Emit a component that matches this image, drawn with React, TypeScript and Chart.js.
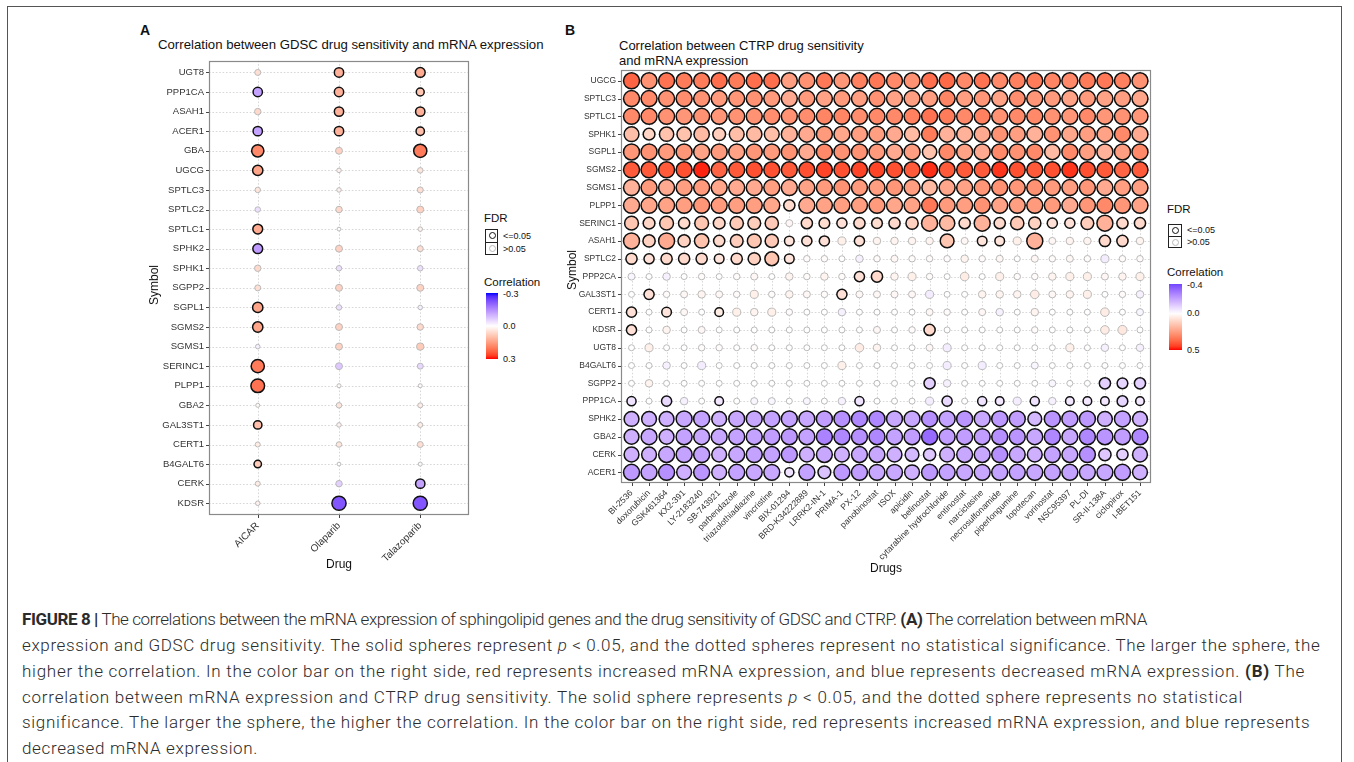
import React, { useEffect, useLayoutEffect, useRef } from "react";
import { Chart, registerables } from "chart.js";
Chart.register(...registerables);

// ---------------- Panel A data (GDSC) ----------------
const genesA = ["UGT8", "PPP1CA", "ASAH1", "ACER1", "GBA", "UGCG", "SPTLC3", "SPTLC2", "SPTLC1", "SPHK2", "SPHK1", "SGPP2", "SGPL1", "SGMS2", "SGMS1", "SERINC1", "PLPP1", "GBA2", "GAL3ST1", "CERT1", "B4GALT6", "CERK", "KDSR"];
const drugsA = ["AICAR", "Olaparib", "Talazoparib"];
const corrAICAR = [0.05, -0.12, 0.06, -0.12, 0.18, 0.14, 0.04, -0.04, 0.13, -0.13, 0.06, 0.05, 0.14, 0.14, -0.02, 0.2, 0.21, 0.01, 0.1, 0.03, 0.08, 0.03, 0.02];
const sigAICAR = [0, 1, 0, 1, 1, 1, 0, 0, 1, 1, 0, 0, 1, 1, 0, 1, 1, 0, 1, 0, 1, 0, 0];
const corrOlaparib = [0.12, 0.12, 0.12, 0.12, 0.07, 0.02, 0.02, 0.06, 0.005, 0.07, -0.04, 0.07, -0.04, 0.07, 0.07, -0.07, 0.01, 0.04, 0.02, 0.04, 0.005, -0.06, -0.22];
const sigOlaparib = [1, 1, 1, 1, 0, 0, 0, 0, 0, 0, 0, 0, 0, 0, 0, 0, 0, 0, 0, 0, 0, 0, 1];
const corrTalazoparib = [0.13, 0.09, 0.12, 0.1, 0.2, 0.04, 0.05, 0.07, 0.02, 0.05, -0.04, 0.07, -0.02, 0.06, 0.08, -0.05, 0.01, 0.03, 0.03, 0.05, 0.01, -0.12, -0.22];
const sigTalazoparib = [1, 1, 1, 1, 1, 0, 0, 0, 0, 0, 0, 0, 0, 0, 0, 0, 0, 0, 0, 0, 0, 1, 1];
const legendTicksA = ["-0.3", "0.0", "0.3"];

// ---------------- Panel B data (CTRP) ----------------
const genesB = ["UGCG", "SPTLC3", "SPTLC1", "SPHK1", "SGPL1", "SGMS2", "SGMS1", "PLPP1", "SERINC1", "ASAH1", "SPTLC2", "PPP2CA", "GAL3ST1", "CERT1", "KDSR", "UGT8", "B4GALT6", "SGPP2", "PPP1CA", "SPHK2", "GBA2", "CERK", "ACER1"];
const drugsB = ["BI-2536", "doxorubicin", "GSK461364", "KX2-391", "LY-2183240", "SB-743921", "parbendazole", "triazolothiadiazine", "vincristine", "BIX-01294", "BRD-K34222889", "LRRK2-IN-1", "PRIMA-1", "PX-12", "panobinostat", "ISOX", "apicidin", "belinostat", "cytarabine hydrochloride", "entinostat", "narciclasine", "necrosulfonamide", "piperlongumine", "topotecan", "vorinostat", "NSC95397", "PL-DI", "SR-II-138A", "ciclopirox", "I-BET151"];
const bUGCG = [0.38, 0.28, 0.35, 0.33, 0.33, 0.36, 0.33, 0.36, 0.36, 0.25, 0.28, 0.34, 0.27, 0.32, 0.34, 0.30, 0.28, 0.36, 0.37, 0.30, 0.35, 0.30, 0.32, 0.33, 0.31, 0.30, 0.33, 0.34, 0.32, 0.28];
const bSPTLC3 = [0.30, 0.30, 0.28, 0.29, 0.28, 0.26, 0.27, 0.28, 0.26, 0.22, 0.26, 0.24, 0.26, 0.25, 0.28, 0.24, 0.25, 0.25, 0.31, 0.25, 0.27, 0.24, 0.29, 0.27, 0.26, 0.24, 0.26, 0.24, 0.25, 0.23];
const bSPTLC1 = [0.30, 0.30, 0.28, 0.27, 0.28, 0.27, 0.28, 0.28, 0.29, 0.28, 0.29, 0.31, 0.31, 0.29, 0.30, 0.30, 0.32, 0.35, 0.33, 0.30, 0.32, 0.28, 0.30, 0.30, 0.28, 0.27, 0.30, 0.27, 0.28, 0.27];
const bSPHK1 = [0.17, 0.11, 0.16, 0.16, 0.18, 0.13, 0.17, 0.18, 0.17, 0.20, 0.22, 0.26, 0.23, 0.25, 0.25, 0.22, 0.18, 0.33, 0.20, 0.20, 0.22, 0.28, 0.25, 0.20, 0.28, 0.23, 0.25, 0.24, 0.30, 0.22];
const bSGPL1 = [0.27, 0.28, 0.26, 0.27, 0.24, 0.26, 0.24, 0.27, 0.26, 0.28, 0.22, 0.30, 0.28, 0.28, 0.26, 0.22, 0.25, 0.16, 0.30, 0.24, 0.22, 0.30, 0.28, 0.30, 0.18, 0.30, 0.25, 0.20, 0.25, 0.30];
const bSGMS2 = [0.40, 0.40, 0.40, 0.42, 0.48, 0.38, 0.40, 0.42, 0.42, 0.40, 0.42, 0.44, 0.42, 0.44, 0.44, 0.42, 0.40, 0.47, 0.40, 0.40, 0.40, 0.46, 0.42, 0.40, 0.42, 0.46, 0.42, 0.40, 0.38, 0.40];
const bSGMS1 = [0.20, 0.26, 0.22, 0.25, 0.26, 0.23, 0.22, 0.22, 0.25, 0.22, 0.24, 0.26, 0.28, 0.26, 0.25, 0.27, 0.25, 0.18, 0.23, 0.24, 0.27, 0.28, 0.27, 0.28, 0.26, 0.25, 0.27, 0.22, 0.25, 0.25];
const bPLPP1 = [0.22, 0.23, 0.24, 0.25, 0.27, 0.26, 0.25, 0.25, 0.23, 0.10, 0.22, 0.24, 0.25, 0.25, 0.26, 0.23, 0.24, 0.34, 0.26, 0.25, 0.28, 0.24, 0.25, 0.26, 0.26, 0.22, 0.27, 0.30, 0.27, 0.24];
const bSERINC1 = [0.15, 0.11, 0.15, 0.10, 0.15, 0.11, 0.14, 0.13, 0.14, 0.02, 0.10, 0.09, 0.08, 0.10, 0.09, 0.10, 0.12, 0.20, 0.18, 0.10, 0.20, 0.10, 0.14, 0.12, 0.08, 0.08, 0.13, 0.20, 0.10, 0.10];
const bASAH1 = [0.20, 0.12, 0.22, 0.12, 0.16, 0.10, 0.13, 0.15, 0.14, 0.07, 0.08, 0.08, 0.04, 0.08, 0.03, 0.03, 0.03, 0.03, 0.15, 0.02, 0.07, 0.07, 0.04, 0.20, 0.02, 0.03, 0.03, 0.10, 0.10, 0.03];
const bSPTLC2 = [0.10, 0.08, 0.10, 0.10, 0.10, 0.07, 0.10, 0.12, 0.15, 0.07, 0.01, 0.01, 0.00, -0.03, 0.01, 0.02, 0.01, 0.01, 0.01, 0.03, 0.01, 0.02, 0.00, 0.02, 0.01, 0.02, 0.01, -0.04, 0.01, 0.01];
const bPPP2CA = [-0.02, 0.00, -0.03, 0.00, 0.01, 0.00, 0.01, 0.02, 0.00, 0.03, 0.01, 0.03, 0.01, 0.08, 0.10, 0.03, 0.04, 0.01, 0.00, 0.05, 0.00, 0.04, 0.01, 0.01, 0.03, 0.04, 0.04, 0.02, 0.03, 0.04];
const bGAL3ST1 = [0.00, 0.08, 0.01, 0.02, 0.03, 0.02, 0.01, 0.04, 0.01, 0.03, 0.02, 0.01, 0.08, 0.02, 0.02, 0.02, 0.02, -0.04, 0.00, 0.00, 0.03, 0.03, 0.03, 0.05, 0.02, 0.03, 0.04, 0.00, 0.01, -0.03];
const bCERT1 = [0.08, 0.00, 0.07, 0.02, 0.00, 0.05, 0.04, 0.03, 0.04, 0.01, 0.00, 0.00, -0.03, 0.00, 0.00, 0.00, 0.00, 0.02, 0.01, 0.00, 0.02, -0.03, 0.00, 0.03, 0.00, 0.00, 0.00, 0.05, 0.00, -0.02];
const bKDSR = [0.08, 0.00, 0.03, 0.00, 0.02, 0.00, 0.00, 0.00, 0.00, 0.00, 0.00, 0.00, 0.00, 0.00, 0.02, 0.00, 0.01, 0.10, 0.00, 0.00, 0.00, 0.00, 0.00, 0.01, 0.00, 0.00, 0.00, 0.05, 0.06, 0.00];
const bUGT8 = [0.00, 0.04, 0.00, 0.00, 0.01, 0.01, 0.00, 0.01, 0.00, 0.00, 0.00, 0.00, 0.00, 0.05, 0.03, 0.00, 0.00, 0.02, -0.04, 0.00, 0.00, 0.00, 0.00, 0.00, 0.00, 0.04, 0.00, -0.03, 0.00, -0.03];
const bB4GALT6 = [0.00, 0.00, -0.03, 0.00, -0.04, 0.00, 0.00, 0.00, 0.00, 0.00, 0.00, 0.00, 0.04, 0.00, 0.00, 0.00, 0.00, 0.00, -0.04, 0.00, -0.04, 0.00, 0.00, -0.02, 0.00, 0.00, 0.00, 0.00, 0.00, 0.00];
const bSGPP2 = [0.00, 0.03, 0.00, 0.00, 0.00, 0.00, 0.00, 0.00, 0.00, 0.00, 0.00, 0.00, 0.00, 0.00, 0.00, 0.00, 0.00, -0.10, -0.03, 0.00, 0.00, 0.00, 0.00, 0.00, -0.02, 0.00, 0.00, -0.10, -0.09, -0.10];
const bPPP1CA = [-0.06, 0.00, -0.08, -0.03, 0.00, -0.05, 0.00, -0.02, -0.02, 0.00, -0.02, 0.00, -0.03, -0.06, 0.00, 0.00, 0.00, -0.04, -0.08, 0.00, -0.06, -0.05, -0.04, -0.06, -0.03, -0.05, -0.05, -0.05, -0.09, -0.05];
const bSPHK2 = [-0.17, -0.17, -0.17, -0.19, -0.20, -0.17, -0.19, -0.19, -0.20, -0.20, -0.19, -0.21, -0.24, -0.26, -0.26, -0.19, -0.19, -0.24, -0.20, -0.23, -0.19, -0.22, -0.21, -0.15, -0.23, -0.21, -0.22, -0.17, -0.20, -0.17];
const bGBA2 = [-0.17, -0.19, -0.17, -0.20, -0.19, -0.19, -0.20, -0.20, -0.21, -0.22, -0.20, -0.27, -0.26, -0.24, -0.26, -0.20, -0.21, -0.32, -0.21, -0.21, -0.21, -0.24, -0.23, -0.19, -0.26, -0.19, -0.26, -0.23, -0.21, -0.26];
const bCERK = [-0.17, -0.17, -0.19, -0.20, -0.20, -0.17, -0.19, -0.20, -0.20, -0.22, -0.17, -0.19, -0.17, -0.19, -0.19, -0.17, -0.15, -0.12, -0.17, -0.19, -0.19, -0.24, -0.19, -0.17, -0.20, -0.19, -0.24, -0.12, -0.10, -0.17];
const bACER1 = [-0.22, -0.20, -0.24, -0.17, -0.23, -0.17, -0.20, -0.19, -0.19, -0.06, -0.20, -0.13, -0.22, -0.21, -0.19, -0.19, -0.17, -0.22, -0.20, -0.19, -0.19, -0.20, -0.20, -0.19, -0.20, -0.20, -0.19, -0.19, -0.21, -0.17];
// significant (FDR <= 0.05) drug indices for the mixed rows; other rows: all or none
const sigAllB = ["UGCG", "SPTLC3", "SPTLC1", "SPHK1", "SGPL1", "SGMS2", "SGMS1", "PLPP1", "SPHK2", "GBA2", "CERK", "ACER1"];
const sigSERINC1 = [0, 1, 2, 3, 4, 5, 6, 7, 8, 10, 11, 12, 13, 14, 15, 16, 17, 18, 19, 20, 21, 22, 23, 24, 25, 26, 27, 28, 29];
const sigASAH1 = [0, 1, 2, 3, 4, 5, 6, 7, 8, 9, 10, 11, 13, 18, 20, 21, 23, 27, 28];
const sigSPTLC2 = [0, 1, 2, 3, 4, 5, 6, 7, 8, 9];
const sigPPP2CA = [13, 14];
const sigGAL3ST1 = [1, 12];
const sigCERT1 = [0, 2, 5];
const sigKDSR = [0, 17];
const sigSGPP2 = [17, 27, 28, 29];
const sigPPP1CA = [0, 2, 5, 13, 18, 20, 21, 23, 25, 26, 27, 28, 29];
const legendTicksB = ["-0.4", "0.0", "0.5"];

const corrRowsB: number[][] = [bUGCG, bSPTLC3, bSPTLC1, bSPHK1, bSGPL1, bSGMS2, bSGMS1, bPLPP1, bSERINC1, bASAH1, bSPTLC2, bPPP2CA, bGAL3ST1, bCERT1, bKDSR, bUGT8, bB4GALT6, bSGPP2, bPPP1CA, bSPHK2, bGBA2, bCERK, bACER1];
const sigListsB: Record<string, number[]> = { SERINC1: sigSERINC1, ASAH1: sigASAH1, SPTLC2: sigSPTLC2, PPP2CA: sigPPP2CA, GAL3ST1: sigGAL3ST1, CERT1: sigCERT1, KDSR: sigKDSR, SGPP2: sigSGPP2, PPP1CA: sigPPP1CA };
const sigRowsB: number[][] = genesB.map((g) =>
  drugsB.map((_, j) => (sigAllB.includes(g) ? 1 : sigListsB[g] && sigListsB[g].includes(j) ? 1 : 0))
);
const corrRowsA: number[][] = genesA.map((_, i) => [corrAICAR[i], corrOlaparib[i], corrTalazoparib[i]]);
const sigRowsA: number[][] = genesA.map((_, i) => [sigAICAR[i], sigOlaparib[i], sigTalazoparib[i]]);

// ---------------- colour helpers (Lab interpolation like ggplot gradient2) ----------------
function toLin(c: number) { c /= 255; return c <= 0.04045 ? c / 12.92 : Math.pow((c + 0.055) / 1.055, 2.4); }
function fromLin(c: number) { const v = c <= 0.0031308 ? 12.92 * c : 1.055 * Math.pow(c, 1 / 2.4) - 0.055; return Math.round(Math.max(0, Math.min(1, v)) * 255); }
function rgbToLab(r: number, g: number, b: number) {
  const R = toLin(r), G = toLin(g), B = toLin(b);
  const X = (0.4124 * R + 0.3576 * G + 0.1805 * B) / 0.95047;
  const Y = 0.2126 * R + 0.7152 * G + 0.0722 * B;
  const Z = (0.0193 * R + 0.1192 * G + 0.9505 * B) / 1.08883;
  const f = (t: number) => (t > 0.008856 ? Math.cbrt(t) : 7.787 * t + 16 / 116);
  const fx = f(X), fy = f(Y), fz = f(Z);
  return [116 * fy - 16, 500 * (fx - fy), 200 * (fy - fz)];
}
function labToRgb(L: number, a: number, b: number) {
  const fy = (L + 16) / 116, fx = fy + a / 500, fz = fy - b / 200;
  const inv = (t: number) => (t * t * t > 0.008856 ? t * t * t : (t - 16 / 116) / 7.787);
  const X = inv(fx) * 0.95047, Y = inv(fy), Z = inv(fz) * 1.08883;
  const R = 3.2406 * X - 1.5372 * Y - 0.4986 * Z;
  const G = -0.9689 * X + 1.8758 * Y + 0.0415 * Z;
  const B = 0.0557 * X - 0.204 * Y + 1.057 * Z;
  return `rgb(${fromLin(R)},${fromLin(G)},${fromLin(B)})`;
}
const LAB_W = rgbToLab(255, 255, 255);
const LAB_R = rgbToLab(255, 0, 0);
const LAB_B = rgbToLab(0, 0, 255);
function corrColor(c: number, lim: number) {
  const t = Math.max(-1, Math.min(1, c / lim));
  const tgt = t >= 0 ? LAB_R : LAB_B;
  const a = Math.abs(t);
  return labToRgb(LAB_W[0] + (tgt[0] - LAB_W[0]) * a, LAB_W[1] + (tgt[1] - LAB_W[1]) * a, LAB_W[2] + (tgt[2] - LAB_W[2]) * a);
}

const FONT = '"Liberation Sans", Arial, Helvetica, sans-serif';

const gridPlugin = {
  id: "ggGrid",
  beforeDatasetsDraw(chart: any) {
    const { ctx, chartArea: a, scales } = chart;
    const x = scales.x, y = scales.y;
    ctx.save();
    ctx.strokeStyle = "#d2d2d2";
    ctx.lineWidth = 0.9;
    ctx.setLineDash([1.6, 1.8]);
    x.ticks.forEach((t: any) => {
      const px = Math.round(x.getPixelForValue(t.value)) + 0.5;
      ctx.beginPath(); ctx.moveTo(px, a.top); ctx.lineTo(px, a.bottom); ctx.stroke();
    });
    y.ticks.forEach((t: any) => {
      const py = Math.round(y.getPixelForValue(t.value)) + 0.5;
      ctx.beginPath(); ctx.moveTo(a.left, py); ctx.lineTo(a.right, py); ctx.stroke();
    });
    ctx.restore();
  },
  afterDatasetsDraw(chart: any) {
    const { ctx, chartArea: a, scales } = chart;
    const x = scales.x, y = scales.y;
    ctx.save();
    ctx.strokeStyle = "#8a8a8a";
    ctx.lineWidth = 1.2;
    ctx.strokeRect(Math.round(a.left) + 0.5, Math.round(a.top) + 0.5, Math.round(a.right - a.left) - 1, Math.round(a.bottom - a.top) - 1);
    ctx.strokeStyle = "#444";
    ctx.lineWidth = 1;
    x.ticks.forEach((t: any) => {
      const px = Math.round(x.getPixelForValue(t.value)) + 0.5;
      ctx.beginPath(); ctx.moveTo(px, a.bottom); ctx.lineTo(px, a.bottom + 3); ctx.stroke();
    });
    y.ticks.forEach((t: any) => {
      const py = Math.round(y.getPixelForValue(t.value)) + 0.5;
      ctx.beginPath(); ctx.moveTo(a.left - 3, py); ctx.lineTo(a.left, py); ctx.stroke();
    });
    ctx.restore();
  },
};

type PanelProps = {
  left: number; top: number; width: number; height: number;
  padTop: number; padRight: number; yAxisW: number; xAxisH: number;
  genes: string[]; drugs: string[]; corr: number[][]; sig: number[][];
  lim: number; radius: (c: number) => number; yFont: number; xFont: number;
};

function BubblePanel(p: PanelProps) {
  const ref = useRef<HTMLCanvasElement | null>(null);
  useEffect(() => {
    if (!ref.current) return;
    const ns: any[] = [], sg: any[] = [];
    p.genes.forEach((_, gi) => {
      p.drugs.forEach((_, di) => {
        const c = p.corr[gi][di];
        const pt = { x: di, y: gi, r: p.radius(c), c };
        (p.sig[gi][di] ? sg : ns).push(pt);
      });
    });
    const chart = new Chart(ref.current, {
      type: "bubble",
      data: {
        datasets: [
          {
            data: ns,
            backgroundColor: (ctx: any) => corrColor(ctx.raw ? ctx.raw.c : 0, p.lim),
            borderColor: "#b9b9b9",
            borderWidth: 1,
          },
          {
            data: sg,
            backgroundColor: (ctx: any) => corrColor(ctx.raw ? ctx.raw.c : 0, p.lim),
            borderColor: "#111111",
            borderWidth: 1.5,
          },
        ],
      },
      options: {
        animation: false,
        responsive: false,
        events: [],
        layout: { padding: { top: p.padTop, right: p.padRight, left: 0, bottom: 0 } },
        plugins: { legend: { display: false }, tooltip: { enabled: false } },
        scales: {
          x: {
            type: "linear",
            min: -0.6,
            max: p.drugs.length - 0.4,
            grid: { display: false, drawTicks: false },
            border: { display: false },
            afterBuildTicks: (s: any) => { s.ticks = p.drugs.map((_, i) => ({ value: i })); },
            afterFit: (s: any) => { s.height = p.xAxisH; s.paddingLeft = 0; s.paddingRight = 0; },
            ticks: {
              autoSkip: false, minRotation: 45, maxRotation: 45, padding: 5,
              font: { family: FONT, size: p.xFont }, color: "#333",
              callback: (v: any) => p.drugs[Math.round(Number(v))] ?? "",
            },
          },
          y: {
            type: "linear",
            reverse: true,
            min: -0.6,
            max: p.genes.length - 0.4,
            grid: { display: false, drawTicks: false },
            border: { display: false },
            afterBuildTicks: (s: any) => { s.ticks = p.genes.map((_, i) => ({ value: i })); },
            afterFit: (s: any) => { s.width = p.yAxisW; },
            ticks: {
              autoSkip: false, padding: 5,
              font: { family: FONT, size: p.yFont }, color: "#333",
              callback: (v: any) => p.genes[Math.round(Number(v))] ?? "",
            },
          },
        },
      } as any,
      plugins: [gridPlugin],
    } as any);
    return () => chart.destroy();
  }, []);
  return (
    <canvas
      ref={ref}
      width={p.width}
      height={p.height}
      style={{ position: "absolute", left: p.left, top: p.top, width: p.width, height: p.height }}
    />
  );
}

function Txt(props: { x: number; y: number; size: number; children: any; bold?: boolean; anchor?: "left" | "center"; rotate?: boolean; color?: string }) {
  const { x, y, size, bold, anchor = "left", rotate, color = "#111" } = props;
  const style: React.CSSProperties = {
    position: "absolute", left: x, top: y, fontFamily: FONT, fontSize: size, fontWeight: bold ? 700 : 400,
    color, whiteSpace: "nowrap", lineHeight: 1,
    transform: rotate ? "translate(-50%,-50%) rotate(-90deg)" : anchor === "center" ? "translate(-50%,-50%)" : "translate(0,-50%)",
  };
  return <div style={style}>{props.children}</div>;
}

function Legend(props: { x: number; fdrY: number; keyTop: number; cell: number; keyW: number; corrY: number; barTop: number; barH: number; barW: number; labX: number; lo: number; hi: number; lim: number; ticks: string[] }) {
  const { x, fdrY, keyTop, cell, keyW, corrY, barTop, barH, barW, labX, lo, hi, lim, ticks } = props;
  const stops: string[] = [];
  for (let i = 0; i <= 20; i++) {
    const v = lo + ((hi - lo) * i) / 20;
    stops.push(`${corrColor(v, lim)} ${(i * 5).toFixed(0)}%`);
  }
  const zeroY = barTop + (barH * (0 - lo)) / (hi - lo);
  return (
    <>
      <Txt x={x} y={fdrY} size={11.5}>FDR</Txt>
      <div style={{ position: "absolute", left: x + 1, top: keyTop, width: keyW, height: cell * 2, border: "1px solid #222", boxSizing: "border-box" }}>
        <div style={{ position: "absolute", left: 0, top: cell - 1, width: "100%", borderTop: "1px solid #222" }} />
        <div style={{ position: "absolute", left: keyW / 2 - 4, top: cell / 2 - 4.5, width: 5, height: 5, borderRadius: "50%", border: "1.5px solid #111", background: "#fff" }} />
        <div style={{ position: "absolute", left: keyW / 2 - 4, top: cell * 1.5 - 4.5, width: 5, height: 5, borderRadius: "50%", border: "1px solid #b9b9b9", background: "#fff" }} />
      </div>
      <Txt x={labX} y={keyTop + cell / 2} size={9}>&lt;=0.05</Txt>
      <Txt x={labX} y={keyTop + cell * 1.5} size={9}>&gt;0.05</Txt>
      <Txt x={x} y={corrY} size={11.5}>Correlation</Txt>
      <div style={{ position: "absolute", left: x + 2, top: barTop, width: barW, height: barH, background: `linear-gradient(to bottom, ${stops.join(", ")})` }} />
      <Txt x={labX} y={barTop + 1} size={9}>{ticks[0]}</Txt>
      <Txt x={labX} y={zeroY} size={9}>{ticks[1]}</Txt>
      <Txt x={labX} y={barTop + barH} size={9}>{ticks[2]}</Txt>
    </>
  );
}

const CAPTION_TARGETS = [1125, 1298, 1283, 1221, 1288, 236];
const CAPTION_Y = [619, 645, 671, 697, 722, 748];

export default function App() {
  const capRefs = useRef<(HTMLDivElement | null)[]>([]);
  useLayoutEffect(() => {
    capRefs.current.forEach((el, i) => {
      if (!el) return;
      el.style.letterSpacing = "0px";
      const w = el.getBoundingClientRect().width;
      const n = (el.textContent || "").length;
      el.style.letterSpacing = ((CAPTION_TARGETS[i] - w) / n).toFixed(3) + "px";
    });
  }, []);

  const capStyle = (i: number): React.CSSProperties => ({
    position: "absolute", left: 22, top: CAPTION_Y[i] - 13, height: 26, lineHeight: "26px",
    fontFamily: "Roboto, 'Liberation Sans', sans-serif", fontWeight: 300, fontSize: 17, color: "#2b2b2b",
    whiteSpace: "nowrap", display: "inline-block",
  });
  const caption = [
    <><b style={{ fontWeight: 700 }}>FIGURE 8 |</b> The correlations between the mRNA expression of sphingolipid genes and the drug sensitivity of GDSC and CTRP. <b style={{ fontWeight: 700 }}>(A)</b> The correlation between mRNA</>,
    <>expression and GDSC drug sensitivity. The solid spheres represent <i>p</i> &lt; 0.05, and the dotted spheres represent no statistical significance. The larger the sphere, the</>,
    <>higher the correlation. In the color bar on the right side, red represents increased mRNA expression, and blue represents decreased mRNA expression. <b style={{ fontWeight: 700 }}>(B)</b> The</>,
    <>correlation between mRNA expression and CTRP drug sensitivity. The solid sphere represents <i>p</i> &lt; 0.05, and the dotted sphere represents no statistical</>,
    <>significance. The larger the sphere, the higher the correlation. In the color bar on the right side, red represents increased mRNA expression, and blue represents</>,
    <>decreased mRNA expression.</>,
  ];

  return (
    <div style={{ position: "absolute", left: 0, top: 0, width: 1354, height: 762, overflow: "hidden", background: "#fff" }}>
      <div style={{ position: "absolute", left: 7, top: 6, width: 1333, height: 820, border: "1px solid #555" }} />

      {/* Panel A */}
      <Txt x={140} y={30} size={14} bold>A</Txt>
      <Txt x={158} y={45} size={13.2}>Correlation between GDSC drug sensitivity and mRNA expression</Txt>
      <BubblePanel
        left={130} top={50} width={350} height={520}
        padTop={8} padRight={11} yAxisW={79} xAxisH={55}
        genes={genesA} drugs={drugsA} corr={corrRowsA} sig={sigRowsA}
        lim={0.3} radius={(c) => 1.8 + 24 * Math.abs(c)} yFont={9.5} xFont={10}
      />
      <Txt x={154} y={285} size={12} rotate>Symbol</Txt>
      <Txt x={339} y={564} size={12} anchor="center">Drug</Txt>
      <Legend x={484} fdrY={219} keyTop={229} cell={13} keyW={13} corrY={283} barTop={293} barH={66} barW={12} labX={503} lo={-0.3} hi={0.3} lim={0.3} ticks={legendTicksA} />

      {/* Panel B */}
      <Txt x={565} y={30} size={14} bold>B</Txt>
      <Txt x={619} y={45} size={13}>Correlation between CTRP drug sensitivity</Txt>
      <Txt x={619} y={60} size={13}>and mRNA expression</Txt>
      <BubblePanel
        left={560} top={60} width={600} height={530}
        padTop={10} padRight={8} yAxisW={61} xAxisH={107}
        genes={genesB} drugs={drugsB} corr={corrRowsB} sig={sigRowsB}
        lim={0.5} radius={(c) => Math.min(8, 3 + 26 * Math.abs(c))} yFont={8.5} xFont={8.7}
      />
      <Txt x={572} y={270} size={12} rotate>Symbol</Txt>
      <Txt x={886} y={568} size={12} anchor="center">Drugs</Txt>
      <Legend x={1167} fdrY={210} keyTop={224} cell={12} keyW={14} corrY={273} barTop={284} barH={66} barW={13} labX={1187} lo={-0.4} hi={0.5} lim={0.5} ticks={legendTicksB} />

      {/* Caption */}
      {caption.map((c, i) => (
        <div key={i} ref={(el) => { capRefs.current[i] = el; }} style={capStyle(i)}>{c}</div>
      ))}
    </div>
  );
}
